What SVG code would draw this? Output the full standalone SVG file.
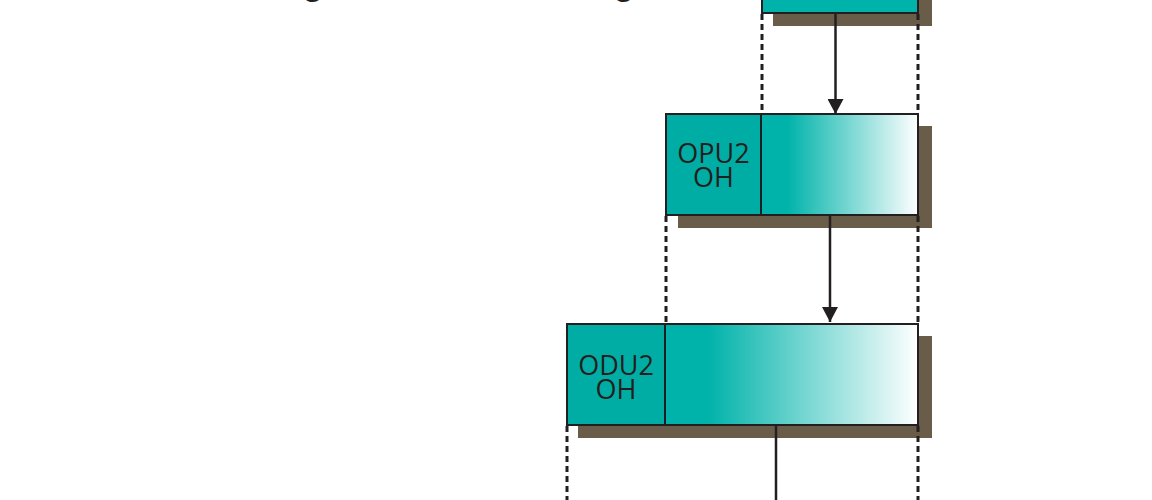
<svg xmlns="http://www.w3.org/2000/svg" width="1152" height="500" viewBox="0 0 1152 500">
  <style>
    .shadow { fill: #695c48; }
    .box { stroke: #231f20; stroke-width: 2; }
    .oh { fill: #00ada4; }
    .solid { fill: #00b3aa; }
    .dash { stroke: #231f20; stroke-width: 3; stroke-dasharray: 6 4; fill: none; }
    .conn { stroke: #231f20; stroke-width: 2.5; fill: none; }
    .lbl { font-family: "Open Sans", "Noto Sans", "Liberation Sans", sans-serif; font-size: 27px; fill: #231f20; text-anchor: middle; }
    .title { font-family: "Liberation Sans", "Open Sans", sans-serif; font-weight: bold; font-size: 34px; fill: #231f20; text-anchor: middle; }
  </style>
  <defs>
    <linearGradient id="fade" x1="0" y1="0" x2="1" y2="0">
      <stop offset="0.17" stop-color="#00b3aa"/>
      <stop offset="1" stop-color="#ffffff"/>
    </linearGradient>
    <marker id="ah" viewBox="0 0 15 16" refX="15" refY="8" markerWidth="15" markerHeight="16" markerUnits="userSpaceOnUse" orient="auto">
      <path d="M0,0 L15,8 L0,16 Z" fill="#231f20"/>
    </marker>
  </defs>

  <g id="title-fragment">
    <text class="title" x="313" y="-5">g</text>
    <text class="title" x="624" y="-5">g</text>
  </g>

  <g id="top-box">
    <rect class="shadow" x="773" y="-20" width="159" height="46"/>
    <rect class="box solid" x="762" y="-30" width="156" height="43"/>
  </g>

  <g id="opu2">
    <rect class="shadow" x="678" y="126" width="254" height="102"/>
    <rect class="box" x="761" y="114" width="157" height="101" fill="url(#fade)"/>
    <rect class="box oh" x="666" y="114" width="95" height="101"/>
    <text class="lbl" x="713.5" y="163">OPU2</text>
    <text class="lbl" x="713.5" y="187">OH</text>
  </g>

  <g id="odu2">
    <rect class="shadow" x="578" y="336" width="354" height="102"/>
    <rect class="box" x="665" y="324" width="253" height="101" fill="url(#fade)"/>
    <rect class="box oh" x="567" y="324" width="98" height="101"/>
    <text class="lbl" x="616" y="375">ODU2</text>
    <text class="lbl" x="616" y="399">OH</text>
  </g>

  <g id="connectors">
    <path class="dash" d="M762,14 V113"/>
    <path class="dash" d="M918,14 V113"/>
    <path class="dash" d="M666,216 V323"/>
    <path class="dash" d="M918,216 V323"/>
    <path class="dash" d="M567,426 V500"/>
    <path class="dash" d="M918,426 V500"/>
    <path class="conn" d="M835.5,13 V114" marker-end="url(#ah)"/>
    <path class="conn" d="M830,215 V322" marker-end="url(#ah)"/>
    <path class="conn" d="M776,425 V500"/>
  </g>
</svg>
